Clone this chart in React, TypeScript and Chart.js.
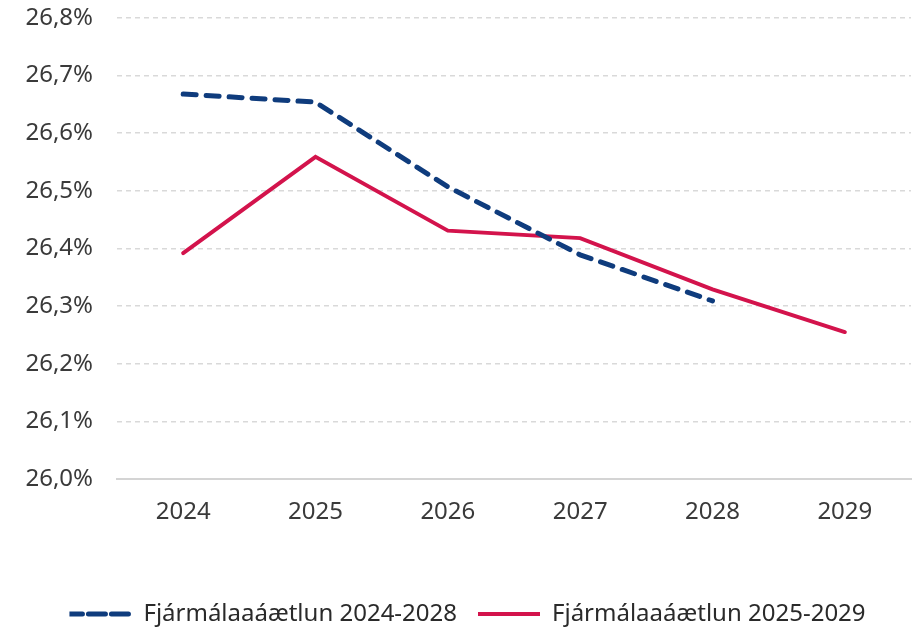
import React, { useEffect, useRef } from "react";
import { Chart, registerables } from "chart.js";

Chart.register(...registerables);

const categories = ["2024", "2025", "2026", "2027", "2028", "2029"];
const series2024_2028: (number | null)[] = [26.668, 26.654, 26.507, 26.389, 26.309, null];
const series2025_2029: number[] = [26.392, 26.559, 26.431, 26.418, 26.329, 26.255];
const yMin = 26.0;
const yMax = 26.8;
const yStep = 0.1;
const label1 = "Fjármálaaáætlun 2024-2028";
const label2 = "Fjármálaaáætlun 2025-2029";

const BLUE = "#0f3c7d";
const RED = "#d3134c";
const FONT = "'Noto Sans', 'Open Sans', sans-serif";

export default function App() {
  const ref = useRef<HTMLCanvasElement | null>(null);
  useEffect(() => {
    if (!ref.current) return;
    const chart = new Chart(ref.current, {
      type: "line",
      data: {
        labels: categories,
        datasets: [
          {
            label: label1,
            data: series2024_2028,
            borderColor: BLUE,
            backgroundColor: BLUE,
            borderWidth: 5,
            borderDash: [13, 10],
            borderCapStyle: "round",
            pointRadius: 0,
            tension: 0,
            spanGaps: false,
          },
          {
            label: label2,
            data: series2025_2029,
            borderColor: RED,
            backgroundColor: RED,
            borderWidth: 4,
            borderCapStyle: "round",
            pointRadius: 0,
            tension: 0,
          },
        ],
      },
      options: {
        responsive: false,
        animation: false,
        layout: { padding: { top: 18, right: 4, bottom: 0, left: 24 } },
        plugins: {
          tooltip: { enabled: false },
          legend: {
            position: "bottom",
            maxHeight: 49,
            labels: {
              boxWidth: 62,
              boxHeight: 0,
              padding: 21,
              color: "#2a2a2a",
              font: { family: FONT, size: 24 },
            },
          },
        },
        scales: {
          x: {
            offset: true,
            grid: { display: false, drawTicks: false },
            border: { display: true, color: "#d4d4d4", width: 2 },
            ticks: {
              color: "#3a3a3a",
              padding: 19,
              font: { family: FONT, size: 24 },
            },
            afterFit: (s: any) => {
              s.height = 102;
              s.paddingLeft = 0;
              s.paddingRight = 0;
            },
          },
          y: {
            min: yMin,
            max: yMax,
            border: { display: false, dash: [5, 4] },
            grid: {
              drawTicks: false,
              color: (c: any) => (c.tick && Math.abs(c.tick.value - yMin) < 1e-9 ? "rgba(0,0,0,0)" : "#d9d9d9"),
              lineWidth: 1.5,
            },
            ticks: {
              stepSize: yStep,
              padding: 24,
              color: "#3a3a3a",
              font: { family: FONT, size: 24 },
              callback: (v: any) => Number(v).toFixed(1).replace(".", ",") + "%",
            },
            afterFit: (s: any) => {
              s.width = 93;
              s.paddingTop = 0;
              s.paddingBottom = 0;
            },
          },
        },
      },
    });
    return () => chart.destroy();
  }, []);
  return (
    <div style={{ position: "absolute", left: 0, top: 0, width: 915, height: 630, background: "#fff" }}>
      <canvas ref={ref} width={915} height={630} />
    </div>
  );
}
